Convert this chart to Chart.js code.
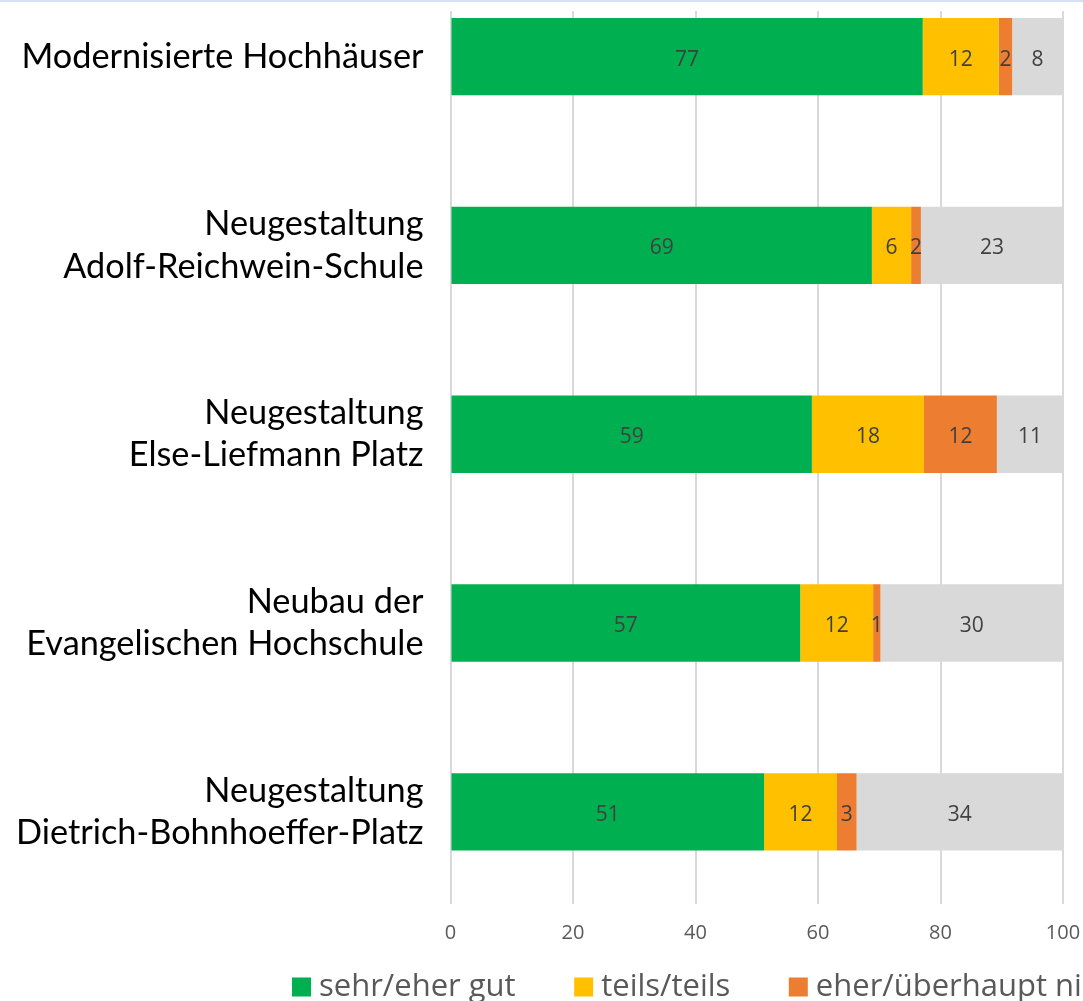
<!DOCTYPE html>
<html><head><meta charset="utf-8">
<script src="https://cdn.jsdelivr.net/npm/chart.js@4.4.1/dist/chart.umd.min.js"></script>
<style>
html,body{margin:0;padding:0;background:#fff;overflow:hidden;width:1083px;height:1001px;}
#wrap{position:relative;width:1600px;height:1056px;}
#topline{position:absolute;left:0;top:0;width:1083px;height:2px;background:#d6e2f4;}
</style></head><body>
<div id="wrap"><canvas id="c" width="1600" height="1056"></canvas><div id="topline"></div></div>
<script>
const categories = [
  ["Modernisierte Hochhäuser"],
  ["Neugestaltung", "Adolf-Reichwein-Schule"],
  ["Neugestaltung", "Else-Liefmann Platz"],
  ["Neubau der", "Evangelischen Hochschule"],
  ["Neugestaltung", "Dietrich-Bohnhoeffer-Platz"]
];
const sehrEherGut    = [77.1, 68.8, 59.0, 57.1, 51.2];
const teilsTeils     = [12.4,  6.4, 18.3, 11.9, 11.9];
const eherNicht      = [ 2.2,  1.6, 11.9,  1.2,  3.2];
const weissNicht     = [ 8.3, 23.2, 10.8, 29.8, 33.7];
const seriesNames = ["sehr/eher gut", "teils/teils", "eher/überhaupt nicht", "weiß nicht"];
const xTicks = [0, 20, 40, 60, 80, 100];

const series = [sehrEherGut, teilsTeils, eherNicht, weissNicht];
const seriesColors = ["#00B050", "#FFC000", "#ED7D31", "#D9D9D9"];

const CW = 1600, PAD_L = 0, PLOT_LEFT = 450.5, PLOT_RIGHT = 1063;
const LEG_PAD = 66, LEG_X = 299.5, LEG_CY = 987, LEG_FONT = 31;

const valueLabels = {
  id: 'valueLabels',
  afterDatasetsDraw(chart) {
    const ctx = chart.ctx;
    ctx.save();
    ctx.font = '21px "Open Sans"';
    ctx.fillStyle = '#404040';
    ctx.textAlign = 'center';
    ctx.textBaseline = 'middle';
    chart.data.datasets.forEach((ds, k) => {
      chart.getDatasetMeta(k).data.forEach((el, i) => {
        const v = series[k][i];
        ctx.fillText(String(Math.round(v)), (el.x + el.base) / 2, el.y + 3);
      });
    });
    ctx.restore();
  }
};

const legendPlace = {
  id: 'legendPlace',
  afterLayout(chart) {
    const lg = chart.legend;
    if (!lg) return;
    const dx = (LEG_X - LEG_PAD) - lg.left;
    const dy = (LEG_CY - LEG_FONT / 2 - LEG_PAD) - lg.top;
    lg.left += dx; lg.right += dx;
    lg.top += dy; lg.bottom += dy;
  }
};

new Chart(document.getElementById('c'), {
  type: 'bar',
  data: {
    datasets: series.map((s, k) => ({
      label: seriesNames[k],
      data: s.map((v, i) => ({x: v, y: i})),
      backgroundColor: seriesColors[k],
      borderWidth: 0,
      stack: 'all',
      barPercentage: 0.41,
      categoryPercentage: 1
    }))
  },
  options: {
    indexAxis: 'y',
    responsive: false,
    animation: false,
    events: [],
    layout: {padding: {left: PAD_L, top: 11, right: 0, bottom: 0}},
    scales: {
      x: {
        type: 'linear', stacked: true, position: 'bottom',
        min: xTicks[0], max: xTicks[xTicks.length - 1],
        ticks: {stepSize: xTicks[1] - xTicks[0], padding: 17, color: '#595959',
                font: {family: 'Open Sans', size: 20}},
        grid: {color: '#d9d9d9', lineWidth: 2, drawTicks: false},
        border: {display: false},
        afterFit(s) { s.height = 45; }
      },
      y: {
        type: 'linear', position: 'left', reverse: true, offset: false,
        min: -0.2415, max: 4.488,
        grid: {display: false, drawTicks: false, offset: false}, border: {display: false},
        ticks: {stepSize: 1, includeBounds: false, autoSkip: false, padding: 27, color: '#000',
                font: {family: 'Lato', size: 34.3, lineHeight: 1.23},
                callback: (v) => Number.isInteger(v) ? categories[v] : ''},
        afterFit(s) { s.width = PLOT_LEFT - PAD_L; s.paddingTop = 0; s.paddingBottom = 0; }
      },
      yRight: {
        type: 'linear', position: 'right', display: true, offset: false,
        grid: {display: false}, border: {display: false}, ticks: {display: false},
        afterFit(s) { s.width = CW - PLOT_RIGHT; s.paddingTop = 0; s.paddingBottom = 0; }
      }
    },
    plugins: {
      legend: {position: 'bottom', align: 'start',
        labels: {usePointStyle: true, pointStyle: 'rect', boxWidth: 4, boxHeight: 19,
                 padding: LEG_PAD, color: '#595959',
                 font: {family: 'Open Sans', size: LEG_FONT}}},
      tooltip: {enabled: false}
    }
  },
  plugins: [valueLabels, legendPlace]
});
</script>
</body></html>
